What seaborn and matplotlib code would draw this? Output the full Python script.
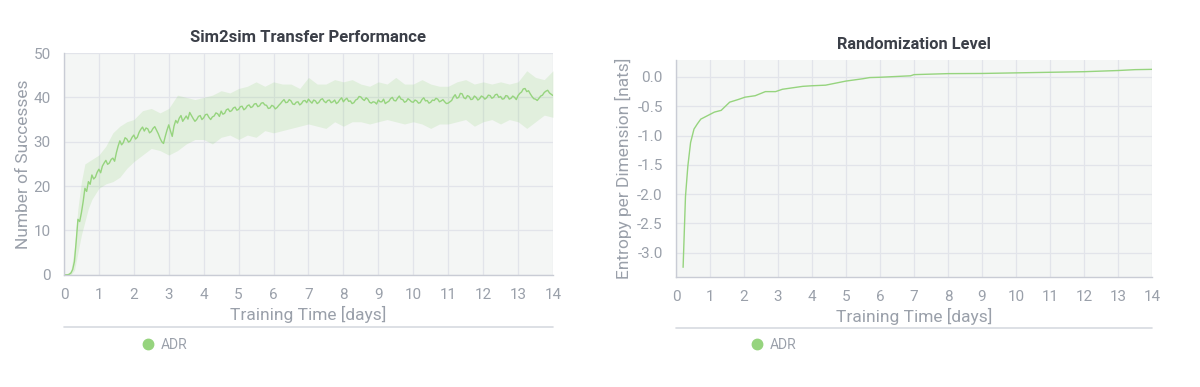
import numpy as np
import pandas as pd
import seaborn as sns
import matplotlib.pyplot as plt
from matplotlib.lines import Line2D

# --- Sim2sim transfer performance (mean, every 0.05 days) ---
days = np.round(np.arange(0, 14.001, 0.05), 2)
successes = [
    # day 0-1
    0.0, 0.0, 0.0, 0.1, 0.4, 1.2, 3.0, 7.5, 12.5, 12.0, 14.0, 16.5, 19.5, 18.8, 21.0, 20.4, 22.5, 21.6, 22.0, 23.1,
    # day 1-2
    23.8, 23.0, 24.5, 25.2, 25.8, 24.9, 25.2, 26.0, 26.3, 25.6, 27.5, 29.0, 30.2, 29.3, 29.8, 30.9, 30.6, 29.9, 30.2, 31.0,
    # day 2-3
    31.5, 30.6, 31.0, 32.1, 32.8, 33.3, 32.4, 33.1, 32.9, 32.0, 32.3, 33.0, 33.4, 32.6, 31.8, 30.8, 30.0, 29.6, 31.2, 32.6,
    # day 3-4
    33.8, 32.4, 31.2, 33.5, 34.8, 34.2, 35.3, 35.9, 34.6, 35.2, 35.8, 35.1, 36.6, 35.9, 35.2, 34.6, 35.0, 35.7, 35.9, 35.0,
    # day 4-5
    35.4, 36.1, 36.2, 35.5, 35.0, 35.6, 35.8, 36.5, 36.3, 35.7, 36.9, 36.2, 36.4, 37.2, 37.4, 36.8, 37.0, 37.6, 37.8, 37.1,
    # day 5-6
    37.3, 37.9, 38.0, 37.2, 37.5, 38.1, 38.3, 37.7, 37.9, 38.5, 38.6, 37.9, 38.1, 38.7, 38.8, 38.3, 38.2, 37.5, 37.6, 38.2,
    # day 6-7
    38.0, 37.4, 37.7, 38.2, 38.6, 39.1, 39.5, 38.8, 38.9, 39.5, 39.2, 38.5, 38.4, 38.9, 39.0, 38.3, 38.6, 39.2, 39.3, 38.8,
    # day 7-8
    39.6, 39.1, 38.7, 39.4, 39.2, 38.6, 38.9, 39.5, 39.7, 39.1, 38.8, 39.3, 39.4, 38.8, 39.0, 39.4, 38.6, 38.9, 39.5, 39.9,
    # day 8-9
    39.0, 39.5, 39.8, 39.1, 39.2, 38.6, 38.8, 39.4, 39.6, 40.2, 40.1, 39.6, 39.3, 39.9, 39.6, 38.9, 38.7, 39.0, 38.9, 38.5,
    # day 9-10
    39.4, 39.0, 39.0, 39.6, 38.6, 38.9, 39.1, 39.7, 40.0, 39.3, 39.2, 39.8, 40.3, 39.6, 39.5, 38.9, 39.1, 39.7, 39.4, 39.0,
    # day 10-11
    38.9, 39.4, 39.2, 38.7, 38.8, 39.5, 39.9, 39.2, 39.3, 38.7, 38.9, 39.4, 39.3, 39.8, 39.6, 39.0, 39.2, 39.5, 39.0, 38.6,
    # day 11-12
    38.7, 39.0, 39.3, 40.1, 40.6, 39.8, 40.0, 40.9, 40.8, 39.9, 39.7, 40.4, 40.2, 39.5, 39.6, 40.3, 40.0, 39.4, 39.7, 40.3,
    # day 12-13
    40.1, 39.6, 39.9, 40.5, 40.4, 39.8, 40.0, 40.6, 40.7, 40.0, 40.2, 39.6, 39.7, 40.4, 40.3, 39.6, 39.8, 40.3, 40.0, 39.5,
    # day 13-14
    40.4, 40.9, 41.2, 41.9, 42.0, 41.3, 41.5, 40.8, 40.2, 39.7, 39.6, 39.3, 39.8, 40.3, 40.5, 41.1, 41.4, 41.6, 41.0, 40.7,
    40.4,
]

# spread band
band_days = [0, 0.1, 0.2, 0.3, 0.4, 0.5, 0.6, 0.7, 0.8, 1.0, 1.2, 1.4, 1.6, 1.8,
             2.0, 2.25, 2.5, 2.75, 3.0, 3.25, 3.5, 3.75, 4.0, 4.25, 4.5, 4.75,
             5.0, 5.25, 5.5, 5.75, 6.0, 6.25, 6.5, 6.75, 7.0, 7.25, 7.5, 7.75,
             8.0, 8.25, 8.5, 8.75, 9.0, 9.25, 9.5, 9.75, 10.0, 10.25, 10.5, 10.75,
             11.0, 11.25, 11.5, 11.75, 12.0, 12.25, 12.5, 12.75, 13.0, 13.25,
             13.5, 13.75, 14.0]
band_upper = [0, 0.2, 1.0, 6, 15, 21, 25, 25.5, 26, 27, 29, 32, 33.5, 34.5,
              35, 37, 37.5, 36.5, 37.5, 40.5, 40, 39.5, 40, 40.5, 41.5, 41,
              42, 42.5, 43.5, 42.5, 43.5, 43, 43, 42, 44.5, 43, 43, 44,
              43.5, 44, 43, 42.5, 43.5, 43, 44.5, 43, 43, 44, 43, 42.5,
              42.5, 43.5, 44, 43, 43.5, 43, 43.5, 43, 43.5, 46,
              44.5, 44, 46]
band_lower = [0, 0, 0, 1, 5, 9, 12, 15, 17, 19.5, 20.5, 21, 22, 24,
              25.5, 27, 28.5, 28, 27, 28, 29.5, 30.5, 30.5, 29.5, 31, 31.5,
              30.5, 31.5, 31, 32.5, 32, 32.5, 33, 33.5, 34, 33.5, 33, 34.5,
              33.5, 34.5, 34.5, 34, 34.5, 35, 34.5, 34, 34.5, 34, 33, 34,
              34, 34.5, 35, 33.5, 34.5, 35, 34, 35, 34.5, 33,
              34.5, 36, 35.5]

# --- Randomization level ---
ent_days = [0.21, 0.28, 0.35, 0.43, 0.53, 0.63, 0.73, 0.93, 1.13, 1.33, 1.58,
            1.83, 2.03, 2.33, 2.63, 2.93, 3.13, 3.73, 4.0, 4.4, 5.0, 5.5, 5.7,
            6.0, 6.9, 7.0, 8.0, 9.0, 10.0, 11.0, 12.0, 13.0, 13.5, 14.0]
entropy = [-3.25, -2.04, -1.52, -1.12, -0.89, -0.80, -0.72, -0.66, -0.60, -0.57, -0.43,
           -0.385, -0.345, -0.32, -0.25, -0.25, -0.21, -0.16, -0.15, -0.14, -0.07, -0.03, -0.01,
           -0.005, 0.02, 0.04, 0.057, 0.06, 0.07, 0.08, 0.09, 0.11, 0.125, 0.13]

GREEN = '#96d47e'
BG = '#f4f6f5'
GRID = '#e2e4ea'
TXT = '#9aa0aa'

sns.set_style('white')
plt.rcParams['font.family'] = ['Roboto', 'DejaVu Sans']
plt.rcParams['axes.unicode_minus'] = False

fig = plt.figure(figsize=(12, 3.87), dpi=100)
ax1 = fig.add_axes([0.0533, 0.290, 0.4075, 0.573])
ax2 = fig.add_axes([0.5633, 0.285, 0.3967, 0.560])


def style(ax):
    ax.set_facecolor(BG)
    ax.grid(True, color=GRID, linewidth=0.9)
    ax.set_axisbelow(True)
    for s in ['top', 'right']:
        ax.spines[s].set_visible(False)
    for s in ['left', 'bottom']:
        ax.spines[s].set_color('#c9ccd5')
        ax.spines[s].set_linewidth(1.0)
    ax.tick_params(colors='#c9ccd5', labelcolor=TXT, labelsize=11,
                   length=6, width=1, direction='out')
    ax.set_xlim(0, 14)
    ax.set_xticks(range(0, 15))
    ax.set_xlabel('Training Time [days]', color=TXT, fontsize=12.5, labelpad=3)


df1 = pd.DataFrame({'day': days, 'val': successes})
ax1.fill_between(band_days, band_lower, band_upper, color=GREEN, alpha=0.2, linewidth=0)
sns.lineplot(data=df1, x='day', y='val', ax=ax1, color=GREEN, linewidth=1.0, legend=False)
style(ax1)
ax1.set_ylim(0, 50)
ax1.set_yticks(range(0, 51, 10))
ax1.set_ylabel('Number of Successes', color=TXT, fontsize=12.5, labelpad=2)
ax1.set_title('Sim2sim Transfer Performance', fontsize=12, fontweight='bold',
              color='#3b3f48', pad=8)

df2 = pd.DataFrame({'day': ent_days, 'val': entropy})
sns.lineplot(data=df2, x='day', y='val', ax=ax2, color=GREEN, linewidth=1.0, legend=False)
style(ax2)
ax2.set_ylim(-3.41, 0.29)
ax2.set_yticks([0.0, -0.5, -1.0, -1.5, -2.0, -2.5, -3.0])
ax2.set_yticklabels(['0.0', '-0.5', '-1.0', '-1.5', '-2.0', '-2.5', '-3.0'])
ax2.set_ylabel('Entropy per Dimension [nats]', color=TXT, fontsize=12.5, labelpad=4)
ax2.set_title('Randomization Level', fontsize=11.8, fontweight='bold',
              color='#3b3f48', pad=8)

# legend separator lines and legends
for ax, (x0, x1), y in [(ax1, (64, 553), 327), (ax2, (676, 1152), 328)]:
    fig.add_artist(Line2D([x0 / 1200, x1 / 1200], [1 - y / 387, 1 - y / 387],
                          color='#d7dae0', linewidth=1.2))

handle = Line2D([], [], marker='o', linestyle='', markersize=7.5,
                markerfacecolor=GREEN, markeredgecolor=GREEN, label='ADR')
for ax, xd in [(ax1, 143), (ax2, 752)]:
    fig.legend(handles=[handle], loc='center left', frameon=False,
               bbox_to_anchor=((xd - 14) / 1200, 1 - 345 / 387),
               fontsize=10, labelcolor=TXT, handletextpad=0.4,
               handlelength=1.0)

fig.savefig('out.png', dpi=100)
